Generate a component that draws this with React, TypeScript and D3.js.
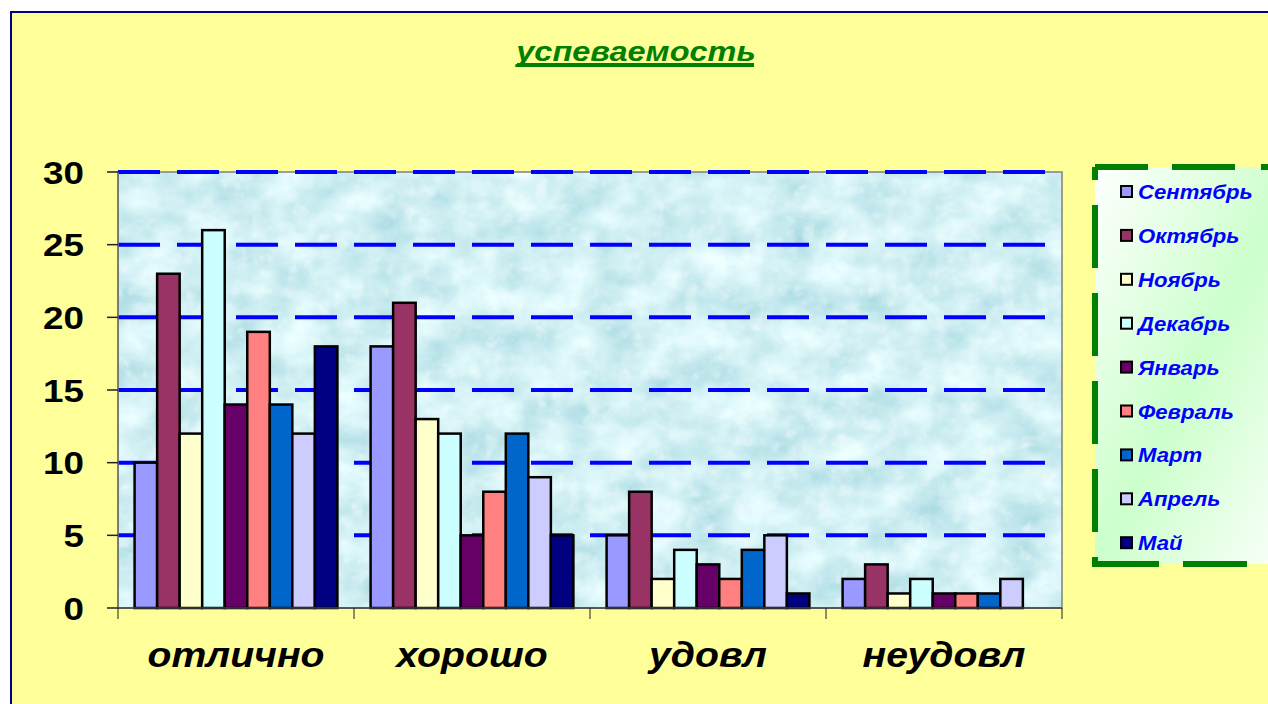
import { scaleBand, scaleLinear } from 'd3'

const categories = ['отлично', 'хорошо', 'удовл', 'неудовл']

const months = [
  'Сентябрь',
  'Октябрь',
  'Ноябрь',
  'Декабрь',
  'Январь',
  'Февраль',
  'Март',
  'Апрель',
  'Май',
]

// one value per category, in category order
const september = [10, 18, 5, 2]
const october = [23, 21, 8, 3]
const november = [12, 13, 2, 1]
const december = [26, 12, 4, 2]
const january = [14, 5, 3, 1]
const february = [19, 8, 2, 1]
const march = [14, 12, 4, 1]
const april = [12, 9, 5, 2]
const may = [18, 5, 1, 0]

const seriesValues = [september, october, november, december, january, february, march, april, may]

const monthColors = [
  '#9999FF',
  '#993366',
  '#FFFFCC',
  '#CCFFFF',
  '#660066',
  '#FF8080',
  '#0066CC',
  '#CCCCFF',
  '#000080',
]

const yTicks = [0, 5, 10, 15, 20, 25, 30]

const width = 1268
const height = 704
const plot = { left: 118, right: 1062, top: 172, bottom: 608 }
const FONT = '"Liberation Sans", Arial, sans-serif'

type StretchedProps = {
  readonly x: number
  readonly y: number
  readonly anchor: 'start' | 'middle' | 'end'
  readonly size: number
  readonly fill: string
  readonly sx?: number
  readonly italic?: boolean
  readonly children: string
}

function Stretched({ x, y, anchor, size, fill, sx = 1.18, italic, children }: StretchedProps) {
  return (
    <text
      transform={`translate(${x},${y}) scale(${sx},1)`}
      textAnchor={anchor}
      fontFamily={FONT}
      fontWeight="bold"
      fontStyle={italic ? 'italic' : 'normal'}
      fontSize={size}
      fill={fill}
    >
      {children}
    </text>
  )
}

export default function App() {
  const yScale = scaleLinear().domain([0, 30]).range([plot.bottom, plot.top])
  const xScale = scaleBand<string>().domain(categories).range([plot.left, plot.right])
  const outer = 16.6
  const inner = scaleBand<string>()
    .domain(months)
    .range([outer, xScale.bandwidth() - outer])

  const legend = { left: 1095, top: 167, bottom: 564, right: 1300 }
  const legendStep = 43.9

  const boundaries = [...categories.map((c) => xScale(c) ?? 0), plot.right]

  return (
    <svg
      width={width}
      height={height}
      viewBox={`0 0 ${width} ${height}`}
      style={{ position: 'absolute', left: 0, top: 0, display: 'block' }}
    >
      <defs>
        <filter id="water" x="0" y="0" width="100%" height="100%">
          <feTurbulence type="fractalNoise" baseFrequency="0.022 0.028" numOctaves="4" seed="11" result="n1" />
          <feColorMatrix
            in="n1"
            type="matrix"
            values="0.6 0 0 0 0.34  0.4 0 0 0 0.67  0.34 0 0 0 0.73  0 0 0 0 1"
            result="base"
          />
          <feTurbulence type="turbulence" baseFrequency="0.06" numOctaves="2" seed="4" result="n2" />
          <feColorMatrix
            in="n2"
            type="matrix"
            values="0 0 0 0 0.9  0 0 0 0 0.98  0 0 0 0 1  1.1 0 0 0 -0.32"
            result="light"
          />
          <feMerge>
            <feMergeNode in="base" />
            <feMergeNode in="light" />
          </feMerge>
        </filter>
        <linearGradient id="legendFill" x1="0" y1="0" x2="1" y2="1">
          <stop offset="0" stopColor="#FFFFFF" />
          <stop offset="0.5" stopColor="#CCFFCC" />
          <stop offset="1" stopColor="#FFFFFF" />
        </linearGradient>
      </defs>

      <rect x={0} y={0} width={width} height={height} fill="#FFFFFF" />
      <rect x={11} y={12} width={1400} height={900} fill="#FFFF99" stroke="#000080" strokeWidth={2} />

      {/* title */}
      <Stretched x={636} y={61} anchor="middle" size={28} sx={1.16} fill="#008000" italic>
        успеваемость
      </Stretched>
      <rect x={517} y={63} width={237} height={4} fill="#008000" />

      {/* plot area */}
      <rect
        x={plot.left}
        y={plot.top}
        width={plot.right - plot.left}
        height={plot.bottom - plot.top}
        filter="url(#water)"
      />
      <rect
        x={plot.left}
        y={plot.top}
        width={plot.right - plot.left}
        height={plot.bottom - plot.top}
        fill="none"
        stroke="#808080"
        strokeWidth={1.5}
      />

      {yTicks
        .filter((t) => t > 0)
        .map((t) => (
          <line
            key={`grid-${t}`}
            x1={plot.left}
            x2={plot.right}
            y1={yScale(t)}
            y2={yScale(t)}
            stroke="#0000FF"
            strokeWidth={4}
            strokeDasharray="42 17"
          />
        ))}

      {/* bars */}
      {categories.map((category, ci) =>
        months.map((month, mi) => {
          const value = seriesValues[mi][ci]
          if (value <= 0) return null
          const x = (xScale(category) ?? 0) + (inner(month) ?? 0)
          return (
            <rect
              key={`${category}-${month}`}
              x={x}
              y={yScale(value)}
              width={inner.bandwidth()}
              height={yScale(0) - yScale(value)}
              fill={monthColors[mi]}
              stroke="#000000"
              strokeWidth={2.5}
            />
          )
        }),
      )}

      {/* axes */}
      <line x1={plot.left} x2={plot.left} y1={plot.top} y2={plot.bottom} stroke="#707070" strokeWidth={1.5} />
      <line x1={plot.left} x2={plot.right} y1={plot.bottom} y2={plot.bottom} stroke="#404040" strokeWidth={1.5} />
      {yTicks.map((t) => (
        <g key={`ytick-${t}`}>
          <line x1={plot.left - 11} x2={plot.left} y1={yScale(t)} y2={yScale(t)} stroke="#202020" strokeWidth={1.5} />
          <Stretched x={84} y={yScale(t) + 11.5} anchor="end" size={32} sx={1.15} fill="#000000">
            {String(t)}
          </Stretched>
        </g>
      ))}
      {boundaries.map((bx, i) => (
        <line key={`xtick-${i}`} x1={bx} x2={bx} y1={plot.bottom} y2={plot.bottom + 11} stroke="#202020" strokeWidth={1} />
      ))}
      {categories.map((category) => (
        <Stretched
          key={`xl-${category}`}
          x={(xScale(category) ?? 0) + xScale.bandwidth() / 2}
          y={667}
          anchor="middle"
          size={35}
          sx={1.12}
          fill="#000000"
          italic
        >
          {category}
        </Stretched>
      ))}

      {/* legend */}
      <rect
        x={legend.left}
        y={legend.top}
        width={legend.right - legend.left}
        height={legend.bottom - legend.top}
        fill="url(#legendFill)"
      />
      <path
        d={`M${legend.left},${legend.top} H${legend.right}`}
        fill="none"
        stroke="#008000"
        strokeWidth={6}
        strokeDasharray="53 24 63 26"
      />
      <path
        d={`M${legend.left},${legend.top} V${legend.bottom}`}
        fill="none"
        stroke="#008000"
        strokeWidth={6}
        strokeDasharray="13 25 63 25 63 25 63 25 63 25 63"
      />
      <path
        d={`M${legend.left},${legend.bottom - 7} V${legend.bottom} H${legend.right}`}
        fill="none"
        stroke="#008000"
        strokeWidth={6}
        strokeDasharray="71 24 64 24"
      />
      {months.map((month, i) => {
        const cy = 191.5 + i * legendStep
        return (
          <g key={`lg-${month}`}>
            <rect x={1121} y={cy - 5.5} width={11} height={11} fill={monthColors[i]} stroke="#000000" strokeWidth={2} />
            <Stretched x={1138} y={cy + 7.5} anchor="start" size={20.5} sx={1.08} fill="#0000FF" italic>
              {month}
            </Stretched>
          </g>
        )
      })}
    </svg>
  )
}
